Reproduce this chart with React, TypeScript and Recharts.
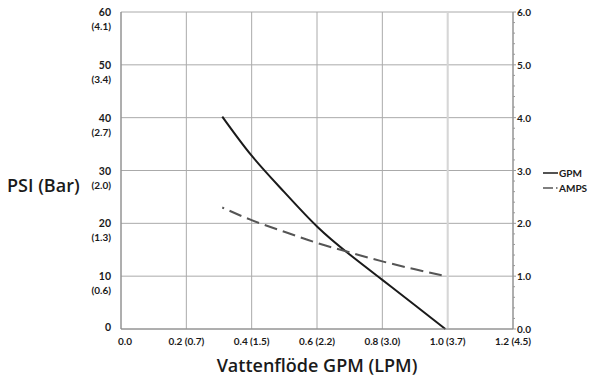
import { LineChart, Line, XAxis, YAxis, CartesianGrid, ReferenceLine, Label } from 'recharts'

const FLOW = [0.31, 0.4, 0.5, 0.6, 0.7, 0.8, 0.9, 0.993]
const GPM_PSI = [40.2, 32.8, 25.9, 19.4, 14.1, 9.3, 4.5, 0]
const AMPS = [2.3, 2.06, 1.84, 1.63, 1.45, 1.28, 1.13, 1.0]

const X_TICKS = [0, 0.2, 0.4, 0.6, 0.8, 1.0, 1.2]
const X_LABELS = ['0.0', '0.2 (0.7)', '0.4 (1.5)', '0.6 (2.2)', '0.8 (3.0)', '1.0 (3.7)', '1.2 (4.5)']
const PSI_TICKS = [0, 10, 20, 30, 40, 50, 60]
const BAR_LABELS = ['', '(0.6)', '(1.3)', '(2.0)', '(2.7)', '(3.4)', '(4.1)']
const AMP_TICKS = Array.from({ length: 31 }, (_, i) => Math.round(i * 2) / 10)

const data = FLOW.map((x, i) => ({ x, psi: GPM_PSI[i], amps: AMPS[i] }))

const FONT = 'Lato, "Open Sans", sans-serif'
const TITLE_FONT = '"Open Sans", Lato, sans-serif'
const TEXT = '#1a1a1a'

function LeftTick({ x, y, payload }: any) {
  const i = PSI_TICKS.indexOf(payload.value)
  return (
    <g>
      <text x={x} y={y + (i === 0 ? 2 : 4)} textAnchor="end" fontFamily={FONT} fontWeight={700} fontSize={10.5} fill={TEXT}>{payload.value}</text>
      {BAR_LABELS[i] && (
        <text x={x} y={y + 18} textAnchor="end" fontFamily={FONT} fontWeight={700} fontSize={10} fill={TEXT}>{BAR_LABELS[i]}</text>
      )}
    </g>
  )
}

function RightTick({ x, y, payload }: any) {
  const major = Math.abs(payload.value - Math.round(payload.value)) < 1e-6
  return (
    <g>
      <line x1={x - 4} x2={x - (major ? 1 : 2)} y1={y} y2={y} stroke="#999" />
      {major && (
        <text x={x} y={y + 4} fontFamily={FONT} fontWeight={700} fontSize={10} fill={TEXT}>{payload.value.toFixed(1)}</text>
      )}
    </g>
  )
}

function BottomTick({ x, y, payload }: any) {
  const i = X_TICKS.indexOf(payload.value)
  return (
    <text x={x + (i === 0 ? 4 : 0)} y={y + 6} textAnchor="middle" fontFamily={FONT} fontWeight={700} fontSize={10} fill={TEXT}>{X_LABELS[i]}</text>
  )
}

function LegendBox() {
  return (
    <svg width={60} height={30} style={{ position: 'absolute', left: 542, top: 167 }}>
      <line x1={1} x2={16} y1={6} y2={6} stroke="#1a1a1a" strokeWidth={1.5} />
      <text x={17} y={10} fontFamily={FONT} fontWeight={700} fontSize={10} fill={TEXT}>GPM</text>
      <line x1={1} x2={11} y1={21} y2={21} stroke="#555" strokeWidth={1.5} />
      <line x1={14} x2={15.5} y1={21} y2={21} stroke="#555" strokeWidth={1.5} />
      <text x={17} y={25} fontFamily={FONT} fontWeight={700} fontSize={10} fill={TEXT}>AMPS</text>
    </svg>
  )
}

export default function App() {
  return (
    <div style={{ position: 'relative', width: 596, height: 378, background: '#fff' }}>
      <style>{'body{margin:0}'}</style>
      <LineChart width={596} height={378} data={data} margin={{ top: 12, right: 0, bottom: 0, left: 0 }}>
        <CartesianGrid yAxisId="psi" stroke="#aaa" strokeWidth={1} />
        <ReferenceLine yAxisId="psi" x={1.0} stroke="#d6d6d6" strokeWidth={2} />
        <XAxis
          dataKey="x" type="number" domain={[0, 1.2]} ticks={X_TICKS} height={49}
          axisLine={{ stroke: '#888' }} tickLine={false} tickMargin={4} tick={<BottomTick />} interval={0}
        >
          <Label
            content={() => (
              <text x={317} y={372} textAnchor="middle" fontFamily={TITLE_FONT} fontWeight={600} fontSize={18} fill={TEXT}>Vattenflöde GPM (LPM)</text>
            )}
          />
        </XAxis>
        <YAxis
          yAxisId="psi" domain={[0, 60]} ticks={PSI_TICKS} width={121}
          axisLine={{ stroke: '#888' }} tickLine={false} tickMargin={4} tick={<LeftTick />} interval={0}
        >
          <Label
            content={() => (
              <text x={7} y={192} fontFamily={TITLE_FONT} fontWeight={600} fontSize={18} fill={TEXT}>PSI (Bar)</text>
            )}
          />
        </YAxis>
        <YAxis
          yAxisId="amps" orientation="right" domain={[0, 6]} ticks={AMP_TICKS} width={83}
          axisLine={{ stroke: '#888' }} tickLine={false} tickSize={0} tickMargin={4} tick={<RightTick />} interval={0}
        />
        <Line
          yAxisId="psi" type="natural" dataKey="psi" stroke="#1a1a1a" strokeWidth={2}
          dot={false} isAnimationActive={false}
        />
        <Line
          yAxisId="amps" type="natural" dataKey="amps" stroke="#555" strokeWidth={2}
          strokeDasharray="13 6" strokeDashoffset={11} dot={false} isAnimationActive={false}
        />
      </LineChart>
      <LegendBox />
    </div>
  )
}
